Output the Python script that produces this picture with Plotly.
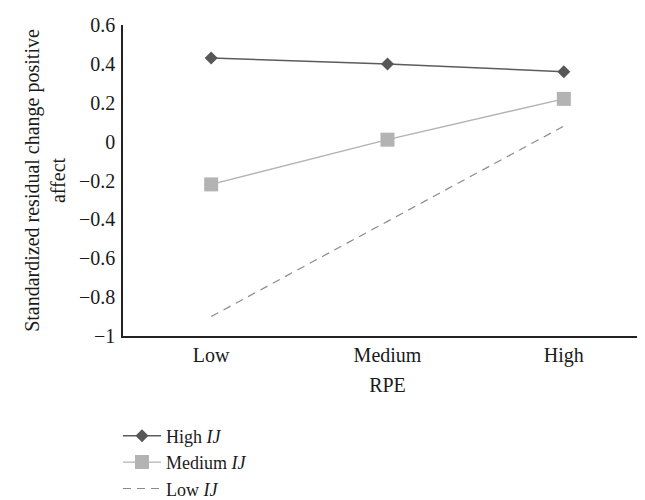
import plotly.graph_objects as go

categories = ["Low", "Medium", "High"]
high_ij = [0.43, 0.40, 0.36]
medium_ij = [-0.22, 0.01, 0.22]
low_ij = [-0.90, -0.41, 0.08]
series_names = ["High <i>IJ</i>", "Medium <i>IJ</i>", "Low <i>IJ</i>"]
y_tickvals = [0.6, 0.4, 0.2, 0, -0.2, -0.4, -0.6, -0.8, -1]
y_ticktext = ["0.6", "0.4", "0.2", "0", "\u22120.2", "\u22120.4", "\u22120.6", "\u22120.8", "\u22121"]

FONT = "Liberation Serif"
TXT = "#1a1a1a"

fig = go.Figure()
fig.add_trace(go.Scatter(
    x=categories, y=high_ij, name=series_names[0], mode="lines+markers",
    line=dict(color="#5c5c5c", width=1.5),
    marker=dict(symbol="diamond", size=10, color="#575757"),
))
fig.add_trace(go.Scatter(
    x=categories, y=medium_ij, name=series_names[1], mode="lines+markers",
    line=dict(color="#b3b3b3", width=1.4),
    marker=dict(symbol="square", size=14, color="#b3b3b3"),
))
fig.add_trace(go.Scatter(
    x=categories, y=low_ij, name=series_names[2], mode="lines",
    line=dict(color="#8a8a8a", width=1.2, dash="8px,6px"),
))

fig.update_layout(
    width=645, height=500,
    margin=dict(l=115, r=1, t=17, b=167),
    paper_bgcolor="white", plot_bgcolor="white",
    font=dict(family=FONT, size=20, color=TXT),
    showlegend=True,
    legend=dict(x=-0.0095, y=-0.262, xanchor="left", yanchor="top",
                bgcolor="rgba(0,0,0,0)", tracegroupgap=0, itemwidth=38,
                font=dict(family=FONT, size=18, color=TXT)),
    xaxis=dict(
        type="category", range=[-0.5, 2.5], showgrid=False, zeroline=False,
        showline=True, linecolor="#222", linewidth=1.5, ticks="",
        tickfont=dict(family=FONT, size=20, color=TXT),
        title=dict(text="RPE", standoff=12, font=dict(family=FONT, size=20, color=TXT)),
    ),
    yaxis=dict(
        range=[-1, 0.6], showgrid=False, zeroline=False,
        showline=True, linecolor="#222", linewidth=1.5, ticks="",
        tickvals=y_tickvals, ticktext=y_ticktext, ticklabelstandoff=2,
        tickfont=dict(family=FONT, size=20, color=TXT),
        title=dict(text="Standardized residual change positive<br>affect",
                   standoff=8, font=dict(family=FONT, size=20, color=TXT)),
    ),
)

fig.write_html("out.html")
